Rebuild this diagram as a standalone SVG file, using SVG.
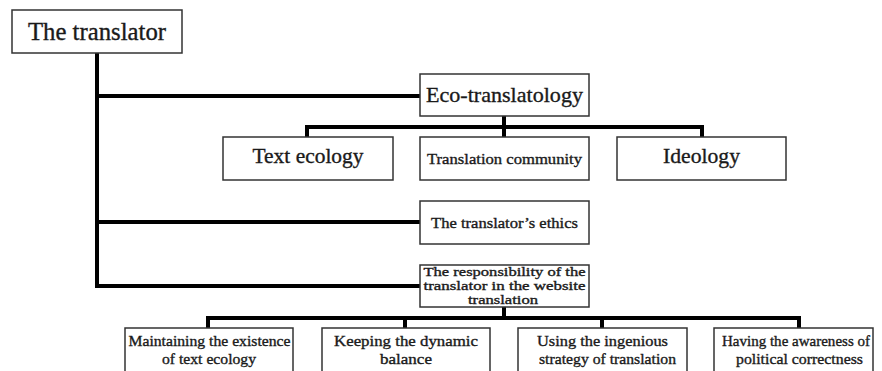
<svg xmlns="http://www.w3.org/2000/svg" width="882" height="371" viewBox="0 0 882 371">
<style>
.box{fill:#fff;stroke:#333;stroke-width:1.5}
text{font-family:'Liberation Serif','DejaVu Serif',serif;fill:#1a1a1a;stroke:#1a1a1a;stroke-width:0.35;text-anchor:middle}
.big{font-size:22px}
.sm{font-size:15px}
.xs{font-size:12.5px}
.con{fill:none;stroke:#000;stroke-width:4;stroke-linejoin:miter;stroke-linecap:butt}
</style>
<rect width="882" height="371" fill="#fff"/>
<g id="connectors">
<polyline class="con" points="97,53 97,286 420,286"/>
<line class="con" x1="97" y1="96" x2="420" y2="96"/>
<line class="con" x1="97" y1="222" x2="420" y2="222"/>
<line class="con" x1="504" y1="116" x2="504" y2="127"/>
<polyline class="con" points="307,137 307,127 702,127 702,137"/>
<line class="con" x1="504" y1="127" x2="504" y2="137"/>
<line class="con" x1="504" y1="307" x2="504" y2="318"/>
<polyline class="con" points="208,328 208,318 799,318 799,328"/>
<line class="con" x1="405" y1="318" x2="405" y2="328"/>
<line class="con" x1="602" y1="318" x2="602" y2="328"/>
</g>
<g id="translator">
<rect class="box" x="12" y="10" width="170" height="43"/>
<text x="97" y="40" style="font-size:24.5px" textLength="138" lengthAdjust="spacingAndGlyphs">The translator</text>
</g>
<g id="eco">
<rect class="box" x="420" y="74" width="169" height="42"/>
<text class="big" x="504.5" y="102" textLength="157" lengthAdjust="spacingAndGlyphs">Eco-translatology</text>
</g>
<g id="textecology">
<rect class="box" x="223" y="137" width="170" height="43"/>
<text x="308" y="163" style="font-size:21px" textLength="111" lengthAdjust="spacingAndGlyphs">Text ecology</text>
</g>
<g id="community">
<rect class="box" x="420" y="137" width="169" height="43"/>
<text class="sm" x="504.5" y="163.5" textLength="155" lengthAdjust="spacingAndGlyphs">Translation community</text>
</g>
<g id="ideology">
<rect class="box" x="617" y="137" width="169" height="43"/>
<text class="big" x="701.5" y="163" textLength="77" lengthAdjust="spacingAndGlyphs">Ideology</text>
</g>
<g id="ethics">
<rect class="box" x="420" y="201" width="169" height="43"/>
<text class="sm" x="504.5" y="228" textLength="147" lengthAdjust="spacingAndGlyphs">The translator’s ethics</text>
</g>
<g id="responsibility">
<rect class="box" x="420" y="265" width="169" height="42"/>
<text class="xs" x="504.5" y="276" textLength="162" lengthAdjust="spacingAndGlyphs">The responsibility of the</text>
<text class="xs" x="504.5" y="290" textLength="162" lengthAdjust="spacingAndGlyphs">translator in the website</text>
<text class="xs" x="503" y="304" textLength="70" lengthAdjust="spacingAndGlyphs">translation</text>
</g>
<g id="maintaining">
<rect class="box" x="125" y="328" width="168" height="52"/>
<text class="sm" x="209.5" y="346" textLength="162" lengthAdjust="spacingAndGlyphs">Maintaining the existence</text>
<text class="sm" x="209" y="364" textLength="94" lengthAdjust="spacingAndGlyphs">of text ecology</text>
</g>
<g id="keeping">
<rect class="box" x="322" y="328" width="168" height="52"/>
<text class="sm" x="406" y="346" textLength="144" lengthAdjust="spacingAndGlyphs">Keeping the dynamic</text>
<text class="sm" x="406" y="364" textLength="52" lengthAdjust="spacingAndGlyphs">balance</text>
</g>
<g id="using">
<rect class="box" x="518" y="328" width="169" height="52"/>
<text class="sm" x="602.5" y="346" textLength="131" lengthAdjust="spacingAndGlyphs">Using the ingenious</text>
<text class="sm" x="607.5" y="364" textLength="137" lengthAdjust="spacingAndGlyphs">strategy of translation</text>
</g>
<g id="having">
<rect class="box" x="714" y="328" width="159" height="52"/>
<text class="sm" x="796" y="346" textLength="148" lengthAdjust="spacingAndGlyphs">Having the awareness of</text>
<text class="sm" x="799.5" y="364" textLength="127" lengthAdjust="spacingAndGlyphs">political correctness</text>
</g>
</svg>
